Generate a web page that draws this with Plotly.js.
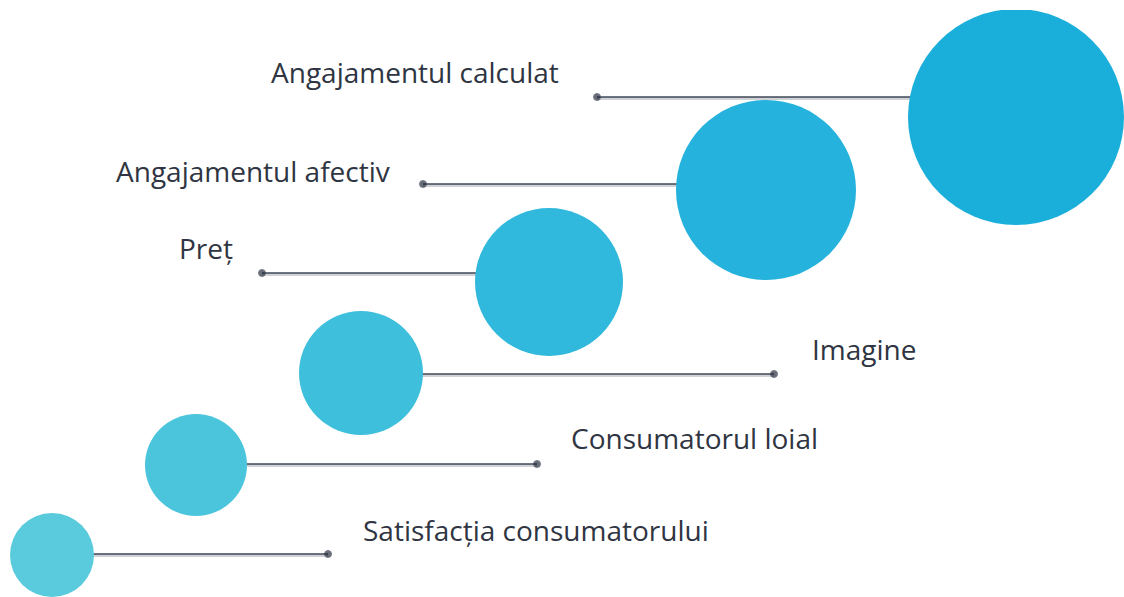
<!DOCTYPE html>
<html>
<head>
<meta charset="utf-8">
<script src="https://cdn.plot.ly/plotly-3.0.1.min.js"></script>
<style>html,body{margin:0;padding:0;background:#fff;}#chart{width:1124px;height:597px;}</style>
</head>
<body>
<div id="chart"></div>
<script>
// Steps of the diagram (bottom to top)
const labels = ["Satisfacția consumatorului", "Consumatorul loial", "Imagine", "Preț", "Angajamentul afectiv", "Angajamentul calculat"];
const circleX = [52, 196, 361, 549, 766, 1016];
const circleY = [555, 465, 373, 282, 190, 117];
const circleR = [42, 51, 62, 74, 90, 108];
const lineY   = [554, 464, 374, 273, 184, 97];
const dotX    = [328, 537, 774, 262, 423, 597];
const labelX  = [361, 569, 810, 177, 114, 269];
const labelY  = [530, 438, 349, 248, 171, 72];
const colors  = ["#5ACBDC", "#4BC5DC", "#3EBFDC", "#31B9DD", "#25B2DC", "#1AAEDA"];

const traces = [];
// connector shadows + lines
for (let i = 0; i < labels.length; i++) {
  traces.push({
    x: [dotX[i], circleX[i]], y: [lineY[i] + 1.5, lineY[i] + 1.5],
    mode: 'lines', line: {color: 'rgba(120,125,135,0.35)', width: 3},
    hoverinfo: 'skip', showlegend: false
  });
  traces.push({
    x: [dotX[i], circleX[i]], y: [lineY[i], lineY[i]],
    mode: 'lines+markers', line: {color: '#3F4757', width: 1.7},
    marker: {size: [7, 0], color: '#272E3D'},
    hoverinfo: 'skip', showlegend: false
  });
}

const shapes = labels.map((l, i) => ({
  type: 'circle', xref: 'x', yref: 'y', layer: 'above',
  x0: circleX[i] - circleR[i], x1: circleX[i] + circleR[i],
  y0: circleY[i] - circleR[i], y1: circleY[i] + circleR[i],
  fillcolor: colors[i], line: {width: 0}
}));

const annotations = labels.map((l, i) => ({
  x: labelX[i], y: labelY[i], xref: 'x', yref: 'y',
  text: l, showarrow: false, xanchor: 'left', yanchor: 'middle',
  font: {family: 'Open Sans, Noto Sans, sans-serif', size: 28, color: '#2F3542'}
}));

const layout = {
  width: 1124, height: 597,
  margin: {l: 0, r: 0, t: 10, b: 0},
  paper_bgcolor: '#ffffff', plot_bgcolor: '#ffffff',
  xaxis: {range: [0, 1124], visible: false, fixedrange: true},
  yaxis: {range: [597, 10], visible: false, fixedrange: true},
  shapes: shapes, annotations: annotations, showlegend: false
};

Plotly.newPlot('chart', traces, layout, {staticPlot: true, displayModeBar: false});
</script>
</body>
</html>
